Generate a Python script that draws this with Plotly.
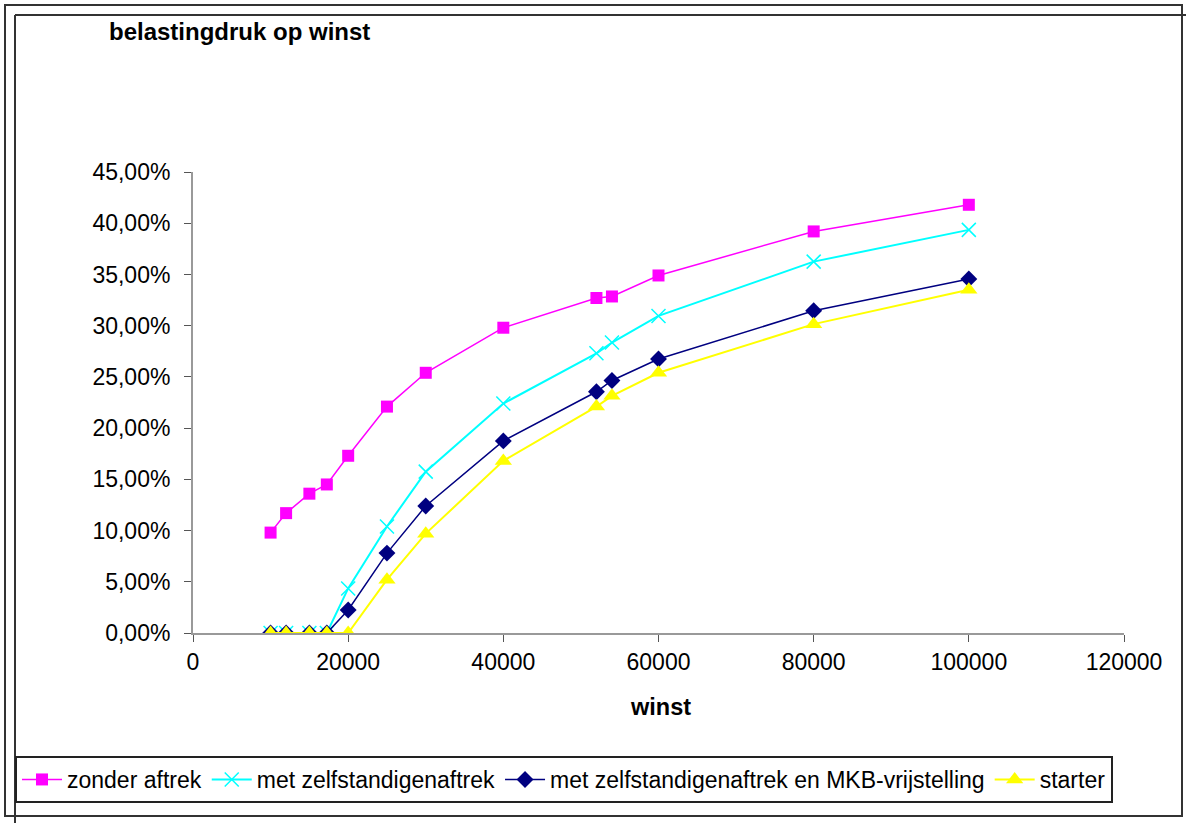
import plotly.graph_objects as go

# ---- data ----
winst = [10000, 12000, 15000, 17250, 20000, 25000, 30000, 40000, 52000, 54000, 60000, 80000, 100000]
zonder_aftrek = [0.098, 0.117, 0.136, 0.145, 0.173, 0.221, 0.254, 0.298, 0.327, 0.3285, 0.349, 0.392, 0.418]
met_zelfstandigenaftrek = [0.0, 0.0, 0.0, 0.0, 0.0435, 0.104, 0.1575, 0.224, 0.273, 0.2835, 0.3095, 0.3625, 0.3935]
met_zelf_en_mkb = [0.0, 0.0, 0.0, 0.0, 0.0225, 0.078, 0.124, 0.1875, 0.2355, 0.2465, 0.2675, 0.3145, 0.3455]
starter = [0.0, 0.0, 0.0, 0.0, 0.0, 0.052, 0.097, 0.168, 0.221, 0.2315, 0.254, 0.3015, 0.335]

series_names = ["zonder aftrek", "met zelfstandigenaftrek",
                "met zelfstandigenaftrek en MKB-vrijstelling", "starter"]
x_ticks = [0, 20000, 40000, 60000, 80000, 100000, 120000]
y_ticks = [0, 0.05, 0.10, 0.15, 0.20, 0.25, 0.30, 0.35, 0.40, 0.45]

W, H = 1186, 823
L, R, T, B = 193, 1124, 172, 633  # plot area in pixels


def px(x):
    return (x - L) / (R - L)


def py(y):
    return (B - y) / (B - T)


FONT = "Liberation Sans, Arial, sans-serif"

fig = go.Figure()
fig.add_trace(go.Scatter(
    x=winst, y=zonder_aftrek, name=series_names[0], mode="lines+markers",
    line=dict(color="#FF00FF", width=1.5),
    marker=dict(symbol="square", size=12, color="#FF00FF")))
fig.add_trace(go.Scatter(
    x=winst, y=met_zelfstandigenaftrek, name=series_names[1], mode="lines+markers",
    line=dict(color="#00FFFF", width=2),
    marker=dict(symbol="x-thin", size=14, color="#00FFFF",
                line=dict(color="#00FFFF", width=1.5))))
fig.add_trace(go.Scatter(
    x=winst, y=met_zelf_en_mkb, name=series_names[2], mode="lines+markers",
    line=dict(color="#000080", width=1.5),
    marker=dict(symbol="diamond", size=13, color="#000080")))
fig.add_trace(go.Scatter(
    x=winst, y=starter, name=series_names[3], mode="lines+markers",
    line=dict(color="#FFFF00", width=2),
    marker=dict(symbol="triangle-up", size=15, color="#FFFF00")))

shapes = [
    # outer frame
    dict(type="rect", xref="paper", yref="paper",
         x0=px(5), x1=px(1182), y0=py(816), y1=py(5),
         line=dict(color="#333333", width=2)),
    # inner frame lines
    dict(type="line", xref="paper", yref="paper",
         x0=px(15), x1=px(1186), y0=py(15), y1=py(15),
         line=dict(color="#333333", width=2)),
    dict(type="line", xref="paper", yref="paper",
         x0=px(15), x1=px(15), y0=py(15), y1=py(823),
         line=dict(color="#333333", width=2)),
]

annotations = [
    dict(text="<b>belastingdruk op winst</b>", xref="paper", yref="paper",
         x=px(107), y=py(31), xanchor="left", yanchor="middle", showarrow=False,
         font=dict(family=FONT, size=24, color="black")),
    dict(text="<b>winst</b>", xref="paper", yref="paper",
         x=px(660), y=py(707), xanchor="center", yanchor="middle", showarrow=False,
         font=dict(family=FONT, size=23.5, color="black")),
]

fig.update_layout(
    width=W, height=H,
    margin=dict(l=L, r=W - R, t=T, b=H - B, pad=0, autoexpand=False),
    paper_bgcolor="white", plot_bgcolor="white",
    separators=",.",
    font=dict(family=FONT, size=23, color="black"),
    showlegend=True,
    legend=dict(orientation="h", xanchor="left", yanchor="top",
                x=px(15), y=py(756), bordercolor="#222222", borderwidth=2,
                bgcolor="white", font=dict(family=FONT, size=23, color="black"),
                itemwidth=40, tracegroupgap=0),
    shapes=shapes, annotations=annotations,
    xaxis=dict(range=[0, 120000], tickvals=x_ticks, tickformat="d",
               showgrid=False, zeroline=False, showline=True, linecolor="#999999",
               linewidth=2, ticks="outside", ticklen=7, tickcolor="#555555",
               tickfont=dict(family=FONT, size=23, color="black")),
    yaxis=dict(range=[0, 0.45], tickvals=y_ticks, tickformat=".2%",
               showgrid=False, zeroline=False, showline=True, linecolor="#999999",
               linewidth=2, ticks="outside", ticklen=7, tickcolor="#555555",
               ticklabelstandoff=9,
               tickfont=dict(family=FONT, size=23, color="black")),
)

fig.write_html("out.html")
